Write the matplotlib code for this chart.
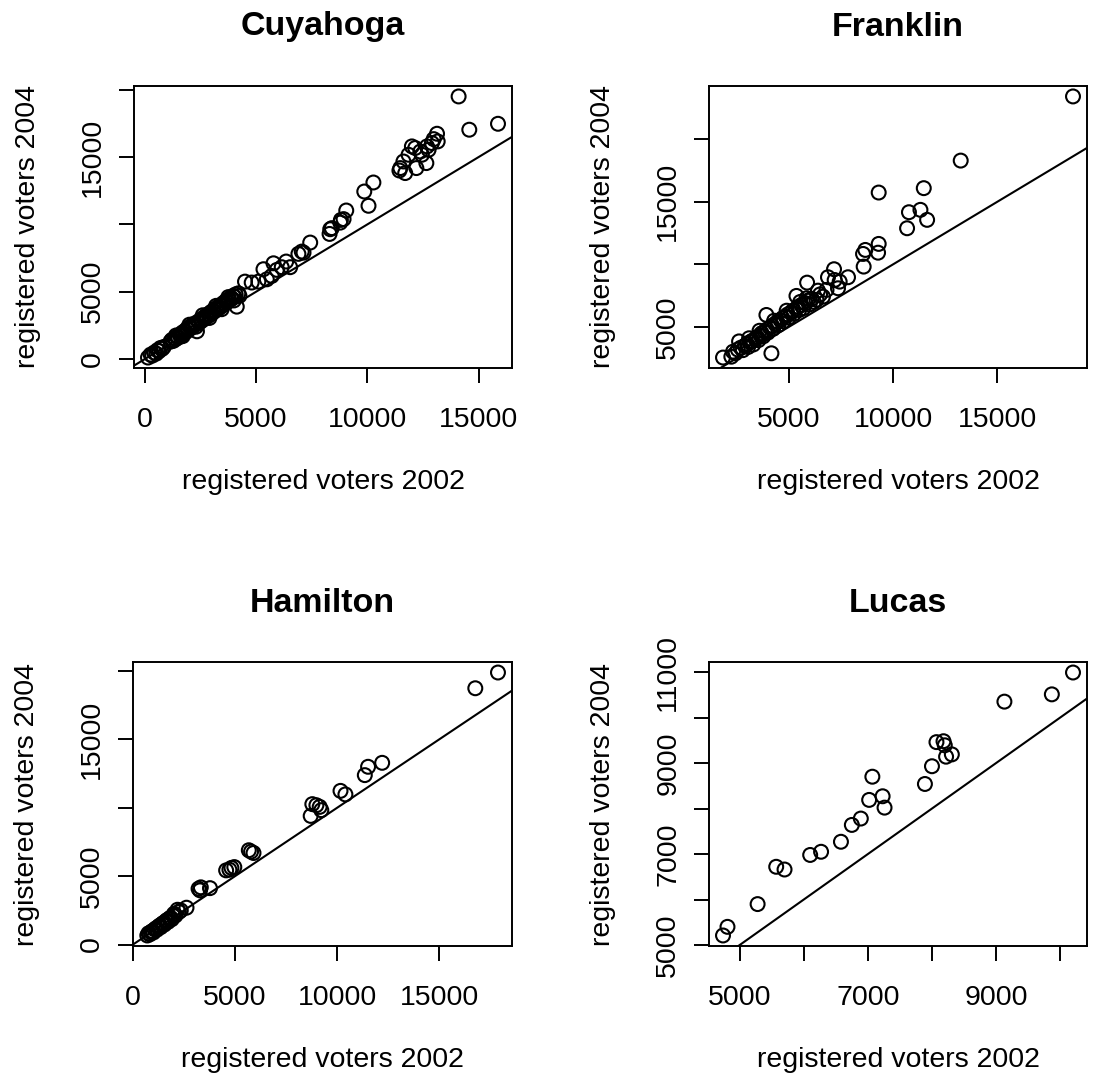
import numpy as np
import matplotlib.pyplot as plt

plt.rcParams['font.family'] = ['Liberation Sans', 'DejaVu Sans']

counties = ['Cuyahoga', 'Franklin', 'Hamilton', 'Lucas']

# registered voters per precinct: (2002, 2004)
cuyahoga = [
    (140, 110), (260, 330), (330, 250), (420, 480), (510, 400), (560, 650), (640, 590),
    (700, 820), (780, 760), (850, 900), (1150, 1290), (1210, 1420), (1280, 1350),
    (1340, 1560), (1390, 1480), (1450, 1660), (1500, 1590), (1560, 1800), (1620, 1730),
    (1680, 1960), (1730, 1890), (1790, 2080), (1850, 2010), (1900, 2250), (1960, 2170),
    (2010, 2380), (2070, 2300), (2120, 2520), (2180, 2440), (2230, 2640), (2290, 2570),
    (2340, 2060), (2400, 2780), (2450, 2700), (2510, 2930), (2560, 2850), (2620, 3060),
    (2680, 2980), (2730, 3200), (2790, 3120), (2850, 3340), (2900, 3260), (2960, 3470),
    (3010, 3390), (3070, 3610), (3120, 3530), (3180, 3740), (3240, 3660), (3290, 3880),
    (3350, 3800), (3400, 4010), (3460, 3940), (3520, 4150), (3570, 4070), (3630, 4300),
    (3690, 4210), (3740, 4430), (3800, 4350), (3860, 4560), (3910, 4490), (3970, 4700),
    (4030, 4620), (4080, 4800), (4130, 3890), (4200, 4880), (4250, 4700),
    (1400, 1750), (1700, 1700), (2000, 2550), (2300, 2400), (2600, 3250), (2900, 3050),
    (3200, 3950), (3450, 3700), (3750, 4600), (4000, 4350),
    (4500, 5750), (4800, 5680), (5100, 5750), (5330, 6670), (5480, 5920), (5700, 6170),
    (5780, 7110), (5930, 6620), (6150, 6820), (6350, 7240), (6530, 6820), (6900, 7810),
    (7050, 7980), (7130, 7900), (7430, 8650), (8300, 9290), (8330, 9640), (8400, 9720),
    (8780, 10130), (8810, 10330), (8930, 10390), (9050, 11030), (9860, 12440),
    (10050, 11380), (10270, 13110), (11440, 14000), (11480, 14180), (11620, 14670),
    (11700, 13810), (11850, 15170), (12000, 15790), (12150, 15670), (12200, 14180),
    (12380, 15410), (12450, 15170), (12650, 14550), (12680, 15790), (12750, 15540),
    (12900, 16040), (12980, 16330), (13130, 16730), (13160, 16160),
    (14100, 19500), (14580, 17030), (15870, 17470),
]

franklin = [
    (1850, 2560), (2250, 2630), (2330, 3030), (2450, 2900), (2560, 3200), (2620, 3850),
    (2700, 3350), (2800, 3150), (2900, 3500), (3000, 3650), (3050, 3400), (3150, 3800),
    (3250, 3900), (3300, 3600), (3400, 4050), (3480, 4200), (3550, 3950), (3650, 4350),
    (3700, 4500), (3780, 4250), (3850, 4650), (3930, 5960), (3950, 4800), (4000, 4550),
    (4100, 4950), (4170, 2900), (4200, 5100), (4250, 4850), (4350, 5250), (4450, 5400),
    (4500, 5150), (4600, 5550), (4700, 5700), (4750, 5450), (4850, 5850), (4950, 6000),
    (5000, 5750), (5100, 6150), (5200, 6300), (5250, 6050), (5350, 6450), (5370, 7480),
    (5450, 6600), (5500, 6350), (5600, 6750), (5700, 6500), (5800, 6900), (5850, 7290),
    (5880, 8540), (5900, 7100), (6000, 6800), (6100, 7250), (6200, 7000), (6330, 7160),
    (6400, 7900), (6640, 7420), (6810, 7960), (6880, 8970), (7170, 9610), (7200, 8750),
    (7360, 8090), (7440, 8620), (7840, 8970), (8560, 10830), (8590, 9820), (8670, 11150),
    (9280, 10930), (9310, 11630), (9310, 15730), (10670, 12880), (10760, 14160),
    (11310, 14350), (11470, 16080), (11630, 13550), (13240, 18280), (18620, 23400),
    (3100, 4100), (3600, 4700), (4300, 5500), (4900, 6300), (5550, 7000), (6500, 7600),
]

hamilton = [
    (700, 660), (760, 820), (820, 740), (880, 900), (940, 980), (1000, 880), (1060, 1100),
    (1120, 1180), (1180, 1090), (1240, 1300), (1300, 1380), (1360, 1270), (1420, 1500),
    (1480, 1570), (1540, 1460), (1600, 1700), (1660, 1780), (1720, 1660), (1780, 1900),
    (1840, 1960), (1900, 1850), (1960, 2100), (2010, 2250), (2080, 2120), (2180, 2540),
    (2250, 2380), (2340, 2490), (2620, 2690), (3210, 4080), (3280, 3960), (3320, 4180),
    (3770, 4120), (4560, 5420), (4720, 5470), (4820, 5600), (4960, 5660), (5670, 6890),
    (5780, 6790), (5900, 6690), (8700, 9400), (8780, 10260), (8980, 10180), (9140, 10060),
    (9220, 9820), (10160, 11230), (10400, 10970), (11350, 12380), (11510, 12990),
    (12200, 13280), (16760, 18730), (17870, 19880),
]

lucas = [
    (4740, 5210), (4810, 5400), (5280, 5900), (5570, 6720), (5700, 6660), (6100, 6980),
    (6270, 7050), (6580, 7270), (6750, 7640), (6890, 7780), (7020, 8190), (7070, 8700),
    (7230, 8270), (7260, 8020), (7890, 8540), (8000, 8930), (8070, 9460), (8180, 9480),
    (8200, 9390), (8220, 9140), (8310, 9190), (9130, 10350), (9870, 10510), (10200, 10990),
]

# tick positions, and the labels left after overlapping ones are dropped
x_ticks = {
    'Cuyahoga': ([0, 5000, 10000, 15000], ['0', '5000', '10000', '15000']),
    'Franklin': ([5000, 10000, 15000], ['5000', '10000', '15000']),
    'Hamilton': ([0, 5000, 10000, 15000], ['0', '5000', '10000', '15000']),
    'Lucas': ([5000, 6000, 7000, 8000, 9000, 10000], ['5000', '', '7000', '', '9000', '']),
}
y_ticks = {
    'Cuyahoga': ([0, 5000, 10000, 15000, 20000], ['0', '5000', '', '15000', '']),
    'Franklin': ([5000, 10000, 15000, 20000], ['5000', '', '15000', '']),
    'Hamilton': ([0, 5000, 10000, 15000, 20000], ['0', '5000', '', '15000', '']),
    'Lucas': ([5000, 6000, 7000, 8000, 9000, 10000, 11000],
              ['5000', '', '7000', '', '9000', '', '11000']),
}

data = {'Cuyahoga': cuyahoga, 'Franklin': franklin, 'Hamilton': hamilton, 'Lucas': lucas}

W, H = 1094, 1078
# plot boxes in pixels: left, top, right, bottom
boxes = {
    'Cuyahoga': (134, 86, 512, 368),
    'Franklin': (709, 86, 1087, 368),
    'Hamilton': (133, 662, 512, 946),
    'Lucas': (709, 662, 1087, 946),
}

fig = plt.figure(figsize=(W / 100, H / 100), dpi=100)

for name in counties:
    l, t, r, b = boxes[name]
    ax = fig.add_axes([l / W, 1 - b / H, (r - l) / W, (b - t) / H])
    pts = np.array(data[name], dtype=float)
    x, y = pts[:, 0], pts[:, 1]

    ax.scatter(x, y, s=100, facecolors='none', edgecolors='black', linewidths=1.5, zorder=3)

    # R default axis range: data range plus 4% each side
    dx, dy = x.max() - x.min(), y.max() - y.min()
    ax.set_xlim(x.min() - 0.04 * dx, x.max() + 0.04 * dx)
    ax.set_ylim(y.min() - 0.04 * dy, y.max() + 0.04 * dy)

    ax.axline((0, 0), slope=1, color='black', linewidth=1.5)

    xt, xl = x_ticks[name]
    yt, yl = y_ticks[name]
    ax.set_xticks(xt)
    ax.set_xticklabels(xl)
    ax.set_yticks(yt)
    ax.set_yticklabels(yl, rotation=90, va='center')
    ax.tick_params(direction='out', length=11, width=1.4, labelsize=20.5)
    ax.tick_params(axis='x', pad=17)
    ax.tick_params(axis='y', pad=9)
    for sp in ax.spines.values():
        sp.set_linewidth(1.4)

    h = b - t
    ax.text(0.5, 1 + 59 / h, name, transform=ax.transAxes, ha='center', va='center',
            fontsize=24.5, fontweight='bold')
    ax.text(0.5, -114 / h, 'registered voters 2002', transform=ax.transAxes,
            ha='center', va='center', fontsize=20.5)
    ax.text(-106 / (r - l), 0.5, 'registered voters 2004', transform=ax.transAxes,
            ha='center', va='center', rotation=90, fontsize=20.5)

fig.savefig('out.png', dpi=100)
